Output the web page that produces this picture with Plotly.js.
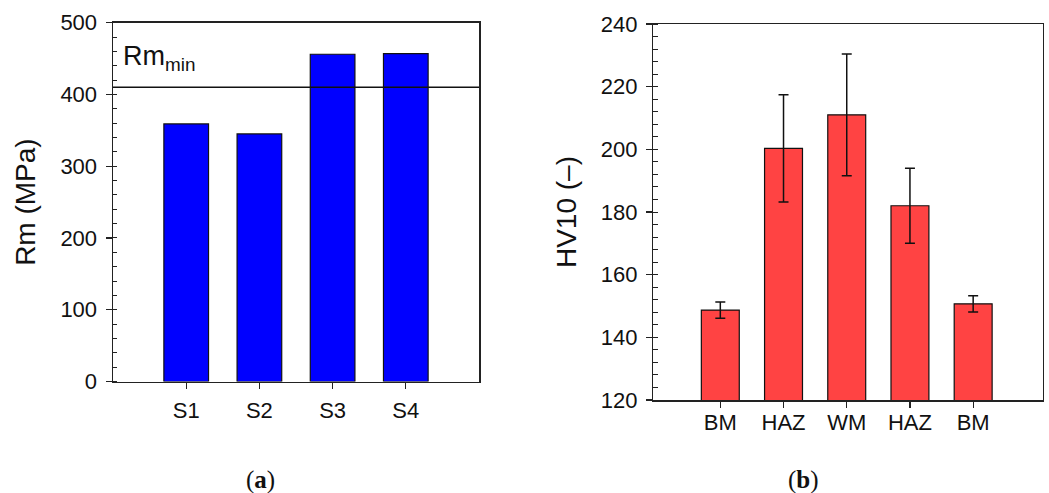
<!DOCTYPE html>
<html>
<head>
<meta charset="utf-8">
<script src="https://cdn.plot.ly/plotly-3.0.1.min.js"></script>
<style>html,body{margin:0;padding:0;background:#fff;}#chart{width:1049px;height:493px;}</style>
</head>
<body>
<div id="chart"></div>
<script>
// Panel (a): tensile strength
const samples = ['S1', 'S2', 'S3', 'S4'];
const rmValues = [359, 345, 456, 457];
const rmMin = 410;

// Panel (b): hardness profile
const zones = ['BM', 'HAZ', 'WM', 'HAZ', 'BM'];
const zoneIdx = [0, 1, 2, 3, 4];
const hvValues = [148.7, 200.3, 211.0, 182.0, 150.7];
const hvErrors = [2.6, 17.1, 19.4, 12.0, 2.6];

const font = 'Arial, "Liberation Sans", sans-serif';
const tickFont = {family: font, size: 22, color: '#111'};

const traces = [
  {
    type: 'bar', x: samples.map((s, i) => i), y: rmValues, xaxis: 'x', yaxis: 'y',
    width: 0.61,
    marker: {color: '#0000ff', line: {color: '#111', width: 1.2}},
    hoverinfo: 'y', showlegend: false
  },
  {
    type: 'bar', x: zoneIdx, y: hvValues, xaxis: 'x2', yaxis: 'y2',
    width: 0.6,
    marker: {color: '#ff4343', line: {color: '#111', width: 1.2}},
    error_y: {type: 'data', array: hvErrors, visible: true, color: '#111', thickness: 1.5, width: 5},
    hoverinfo: 'y', showlegend: false
  }
];

const yCommon = {
  showline: true, linecolor: '#222', linewidth: 1.5, mirror: true,
  ticks: 'outside', ticklen: 6, tickwidth: 1.2, tickcolor: '#222',
  showgrid: false, zeroline: false, tickfont: tickFont,
  ticklabelstandoff: 4
};
const xCommon = {
  showline: true, linecolor: '#222', linewidth: 1.5, mirror: true,
  ticks: 'outside', ticklen: 6, tickwidth: 1.2, tickcolor: '#222',
  showgrid: false, zeroline: false, tickfont: tickFont,
  tickmode: 'array'
};

const layout = {
  width: 1049, height: 493,
  margin: {l: 0, r: 0, t: 0, b: 0},
  paper_bgcolor: '#fff', plot_bgcolor: '#fff',
  font: {family: font, color: '#111'},
  bargap: 0.4,
  xaxis: Object.assign({}, xCommon, {
    domain: [113/1049, 479/1049], range: [-1, 4],
    tickvals: samples.map((s, i) => i), ticktext: samples, anchor: 'y',
    ticklabelstandoff: 3
  }),
  yaxis: Object.assign({}, yCommon, {
    domain: [1 - 381.5/493, 1 - 22.7/493], range: [0, 500], dtick: 100,
    anchor: 'x',
    minor: {dtick: 20, ticks: 'inside', ticklen: 4, tickwidth: 1, tickcolor: '#222'},
    title: {text: 'Rm (MPa)', font: {family: font, size: 28, color: '#111'}, standoff: 16}
  }),
  xaxis2: Object.assign({}, xCommon, {
    domain: [653.3/1049, 1042.7/1049], range: [-1.06, 5.1],
    tickvals: zoneIdx, ticktext: zones, anchor: 'y2',
    ticklabelstandoff: -4
  }),
  yaxis2: Object.assign({}, yCommon, {
    domain: [1 - 400/493, 1 - 24/493], range: [120, 240], dtick: 20,
    anchor: 'x2',
    minor: {dtick: 4, ticks: 'inside', ticklen: 5, tickwidth: 1, tickcolor: '#222'},
    title: {text: 'HV10 (–)', font: {family: font, size: 28, color: '#111'}, standoff: 16}
  }),
  shapes: [
    {type: 'line', xref: 'x domain', yref: 'y', x0: 0, x1: 1, y0: rmMin, y1: rmMin,
     line: {color: '#111', width: 1.5}}
  ],
  annotations: [
    {xref: 'x domain', yref: 'y', x: 0.022, y: 451, xanchor: 'left', yanchor: 'middle',
     text: 'Rm<sub>min</sub>', showarrow: false, font: {family: font, size: 27, color: '#111'}},
    {xref: 'paper', yref: 'paper', x: 260/1049, y: 1 - 480/493, xanchor: 'center', yanchor: 'middle',
     text: '(<b>a</b>)', showarrow: false, font: {family: '"Liberation Serif", "DejaVu Serif", serif', size: 25, color: '#111'}},
    {xref: 'paper', yref: 'paper', x: 803/1049, y: 1 - 480/493, xanchor: 'center', yanchor: 'middle',
     text: '(<b>b</b>)', showarrow: false, font: {family: '"Liberation Serif", "DejaVu Serif", serif', size: 25, color: '#111'}}
  ]
};

Plotly.newPlot('chart', traces, layout, {displayModeBar: false, staticPlot: true});
</script>
</body>
</html>
